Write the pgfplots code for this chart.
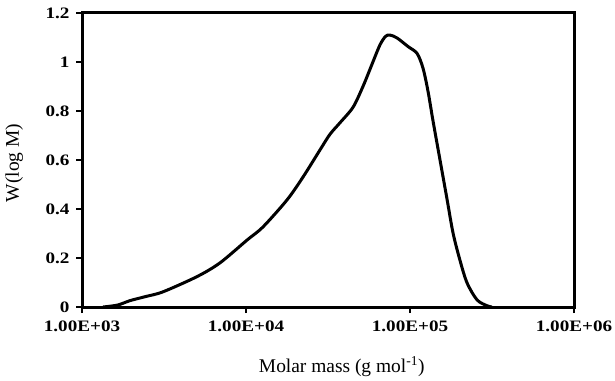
\documentclass[border=0pt]{standalone}
\usepackage{fontspec}
\setmainfont{Liberation Serif}
\newfontfamily\tickfont[FakeStretch=1.2]{Liberation Serif}
\usepackage{pgfplots}
\pgfplotsset{compat=1.18}
\begin{document}
\begin{tikzpicture}
\begin{axis}[
  name=ax,
  scale only axis, width=492bp, height=294bp,
  xmode=log, xmin=1000, xmax=1000000, ymin=0, ymax=1.2,
  xtick={1000,10000,100000,1000000},
  xticklabels={1.00E+03,1.00E+04,1.00E+05,1.00E+06},
  ytick={0,0.2,0.4,0.6,0.8,1,1.2},
  yticklabels={0,0.2,0.4,0.6,0.8,1,1.2},
  minor tick num=0, xminorticks=false,
  tick align=outside, xtick pos=left, ytick pos=left,
  major tick length=6bp,
  axis line style={line width=3bp},
  every tick/.style={line width=2.2bp, black},
  tick label style={font=\tickfont\fontsize{16}{16}\selectfont\bfseries},
  xticklabel style={yshift=-4bp},
  yticklabel style={xshift=-3bp},
  label style={font=\fontsize{19.5}{20}\selectfont},
  xlabel={Molar mass (g mol\textsuperscript{-1})},
  ylabel={W(log M)},
  xlabel style={at={(axis description cs:0.528,-0.223)}, anchor=base},
  ylabel style={at={(axis description cs:-0.138,0.49)}, anchor=center},
  clip=false,
]
\addplot[black, line width=3bp, smooth, tension=0.5] coordinates {
(1343,0) (1650,0.008) (1963,0.026) (2455,0.043) (3119,0.062) (5024,0.124)
(6935,0.18) (10140,0.273) (12700,0.327) (17780,0.437) (22290,0.531)
(28250,0.641) (32510,0.705) (37410,0.752) (44900,0.815) (51650,0.9)
(59400,1.0) (65600,1.07) (71000,1.105) (75500,1.11) (83400,1.098) (97300,1.063)
(110400,1.035) (120000,0.975) (128800,0.88) (138100,0.76) (152400,0.60)
(168200,0.44) (183000,0.302) (201800,0.19) (222900,0.098) (256400,0.029)
(295300,0.005) (316000,0)
};
\end{axis}
\pgfresetboundingbox
\useasboundingbox ([xshift=-82bp,yshift=-74bp]ax.south west) rectangle ([xshift=41bp,yshift=13bp]ax.north east);
\end{tikzpicture}
\end{document}
